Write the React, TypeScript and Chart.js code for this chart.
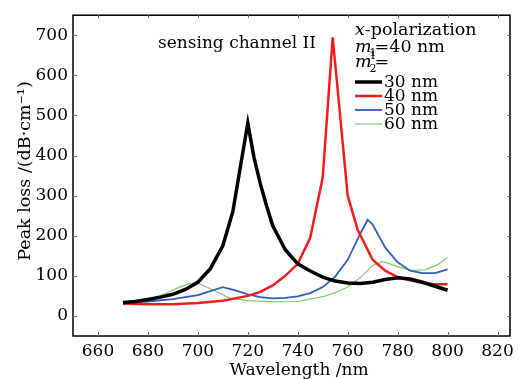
import React, { useEffect, useRef } from "react";
import { Chart, registerables } from "chart.js";

Chart.register(...registerables);

const xTicks = [660, 680, 700, 720, 740, 760, 780, 800, 820];
const yTicks = [0, 100, 200, 300, 400, 500, 600, 700];

const blackX = [670, 675, 680, 685, 690, 695, 700, 705, 710, 714, 720, 722.5, 725, 727.5, 730, 735, 740, 745, 750, 755, 760, 765, 770, 775, 780, 785, 790, 795, 800];
const blackY = [33, 36, 41, 47, 54, 66, 84, 118, 175, 260, 481, 395, 330, 275, 225, 165, 130, 112, 97, 87, 82, 81, 84, 91, 95, 92, 84, 74, 64];

const redX = [670, 680, 690, 700, 710, 720, 725, 730, 735, 740, 745, 750, 754, 760, 764, 770, 775, 780, 785, 790, 795, 800];
const redY = [31, 29, 29, 32, 38, 50, 60, 76, 100, 130, 195, 345, 695, 300, 215, 140, 113, 97, 89, 82, 79, 79];

const blueX = [670, 680, 690, 700, 705, 710, 715, 720, 725, 730, 735, 740, 745, 750, 755, 760, 765, 768, 770, 775, 780, 785, 790, 795, 800];
const blueY = [33, 36, 42, 52, 62, 72, 64, 54, 47, 44, 45, 49, 57, 72, 98, 140, 205, 240, 228, 171, 134, 113, 107, 107, 116];

const greenX = [670, 680, 687, 692, 696, 700, 705, 710, 713, 720, 730, 740, 750, 755, 760, 765, 770, 774, 781, 785, 791, 796, 800];
const greenY = [37, 41, 56, 70, 80, 82, 68, 53, 44, 38, 35, 36, 48, 58, 72, 95, 126, 136, 121, 114, 115, 128, 146];

const seriesLabels = ["30 nm", "40 nm", "50 nm", "60 nm"];
const seriesColors = ["#000000", "#f21c1c", "#2f5fc0", "#7ccc6c"];
const seriesWidths = [3.5, 2.5, 1.8, 1.2];

const FONT = "'DejaVu Serif', serif";

const pairs = (xs: number[], ys: number[]) => xs.map((x, i) => ({ x, y: ys[i] }));

const decor = {
  id: "decor",
  afterDraw(chart: any) {
    const { ctx, chartArea: a, scales } = chart;
    ctx.save();
    ctx.strokeStyle = "#000";
    ctx.lineWidth = 1.5;
    ctx.strokeRect(a.left, a.top, a.right - a.left, a.bottom - a.top);
    ctx.lineWidth = 1;
    ctx.strokeStyle = "#777";
    for (const v of xTicks) {
      const px = Math.round(scales.x.getPixelForValue(v)) + 0.5;
      ctx.beginPath();
      ctx.moveTo(px, a.bottom);
      ctx.lineTo(px, a.bottom - 4);
      ctx.moveTo(px, a.top);
      ctx.lineTo(px, a.top + 3);
      ctx.stroke();
    }
    for (const v of yTicks) {
      const py = Math.round(scales.y.getPixelForValue(v)) + 0.5;
      ctx.beginPath();
      ctx.moveTo(a.left, py);
      ctx.lineTo(a.left + 4, py);
      ctx.moveTo(a.right, py);
      ctx.lineTo(a.right - 3, py);
      ctx.stroke();
    }
    ctx.fillStyle = "#000";
    ctx.textBaseline = "middle";
    ctx.font = `17px ${FONT}`;
    ctx.textAlign = "center";
    ctx.fillText("Wavelength /nm", 299, 371);
    ctx.save();
    ctx.translate(25, 171);
    ctx.rotate(-Math.PI / 2);
    ctx.font = `17.5px ${FONT}`;
    ctx.fillText("Peak loss /(dB\u00B7cm\u207B\u00B9)", 0, 0);
    ctx.restore();
    ctx.textAlign = "left";
    ctx.font = `17px ${FONT}`;
    ctx.fillText("sensing channel II", 158, 44);
    const lx = 355;
    ctx.font = `italic 17.5px ${FONT}`;
    ctx.fillText("x", lx, 30);
    let w = ctx.measureText("x").width;
    ctx.font = `17.5px ${FONT}`;
    ctx.fillText("-polarization", lx + w, 30);
    ctx.font = `italic 17.5px ${FONT}`;
    ctx.fillText("m", lx, 47);
    w = ctx.measureText("m").width;
    ctx.font = `11px ${FONT}`;
    ctx.fillText("1", lx + w - 2, 53);
    ctx.font = `17.5px ${FONT}`;
    ctx.fillText("=40 nm", lx + w + 3, 47);
    ctx.font = `italic 17.5px ${FONT}`;
    ctx.fillText("m", lx, 62);
    ctx.font = `11px ${FONT}`;
    ctx.fillText("2", lx + w - 2, 69);
    ctx.fillText("1", lx + w - 2, 56);
    ctx.font = `17.5px ${FONT}`;
    ctx.fillText("=", lx + w + 3, 62);
    ctx.font = `17px ${FONT}`;
    seriesLabels.forEach((lab, i) => {
      const y = 82 + i * 14;
      ctx.strokeStyle = seriesColors[i];
      ctx.lineWidth = seriesWidths[i];
      ctx.beginPath();
      ctx.moveTo(lx, y);
      ctx.lineTo(lx + 27, y);
      ctx.stroke();
      ctx.fillStyle = "#000";
      ctx.fillText(lab, lx + 29, y + 1);
    });
    ctx.restore();
  },
};

export default function App() {
  const ref = useRef<HTMLCanvasElement>(null);
  useEffect(() => {
    if (!ref.current) return;
    Chart.defaults.font.family = FONT;
    Chart.defaults.color = "#000";
    const xs = [blackX, redX, blueX, greenX];
    const ys = [blackY, redY, blueY, greenY];
    const chart = new Chart(ref.current, {
      type: "line",
      data: {
        datasets: seriesLabels.map((lab, i) => ({
          label: lab,
          data: pairs(xs[i], ys[i]),
          borderColor: seriesColors[i],
          borderWidth: seriesWidths[i],
          pointRadius: 0,
          tension: 0,
          fill: false,
        })),
      },
      options: {
        animation: false,
        responsive: false,
        layout: { padding: { top: 11, right: 9, left: 0, bottom: 0 } },
        plugins: { legend: { display: false }, tooltip: { enabled: false } },
        scales: {
          x: {
            type: "linear",
            min: 650,
            max: 825,
            grid: { display: false, drawTicks: false },
            border: { display: false },
            ticks: { font: { size: 17 }, padding: 5, color: "#000", maxRotation: 0 },
            afterBuildTicks: (s: any) => {
              s.ticks = xTicks.map((v) => ({ value: v }));
            },
            afterFit: (s: any) => {
              s.height = 43;
            },
          },
          y: {
            type: "linear",
            min: -50,
            max: 750,
            grid: { display: false, drawTicks: false },
            border: { display: false },
            ticks: { font: { size: 17 }, padding: 5, color: "#000" },
            afterBuildTicks: (s: any) => {
              s.ticks = yTicks.map((v) => ({ value: v }));
            },
            afterFit: (s: any) => {
              s.width = 73;
            },
          },
        },
      },
      plugins: [decor],
    });
    return () => chart.destroy();
  }, []);
  return (
    <div style={{ position: "fixed", left: 0, top: 0, background: "#fff" }}>
      <canvas ref={ref} width={519} height={379} />
    </div>
  );
}
